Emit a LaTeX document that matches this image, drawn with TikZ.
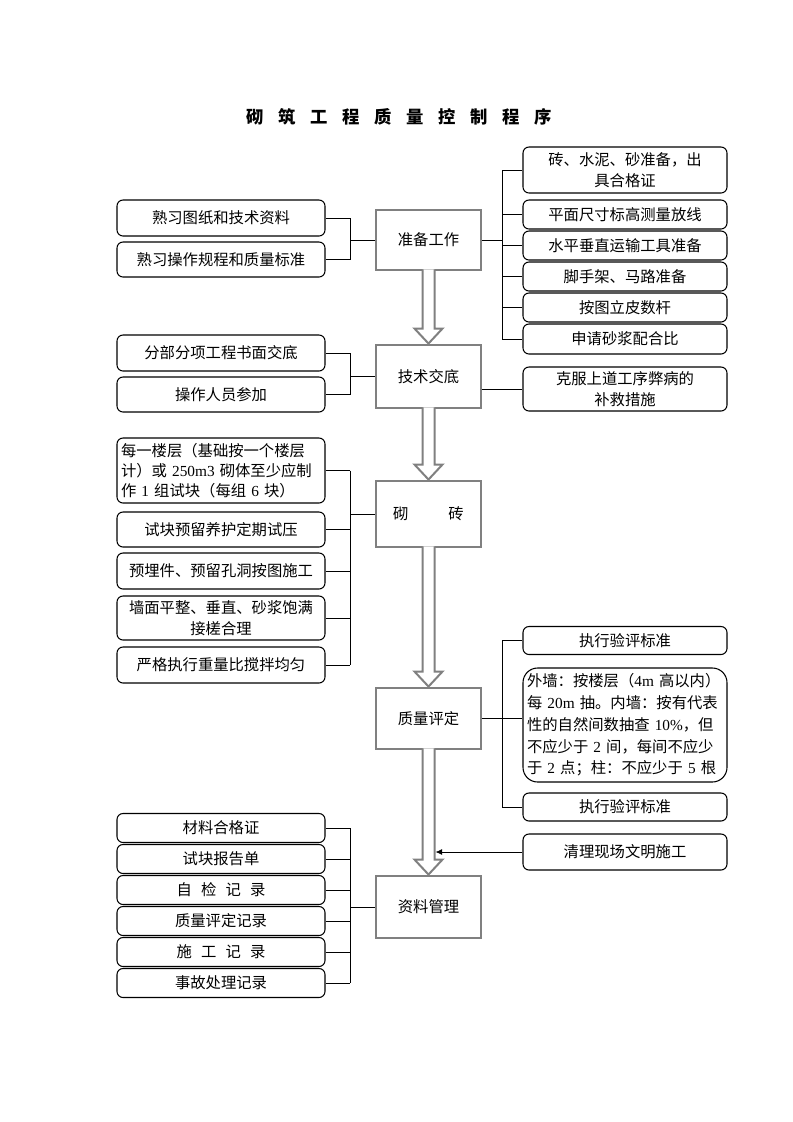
\documentclass[tikz,border=0pt]{standalone}
\usepackage{fontspec}
\setmainfont{Liberation Serif}
\newfontfamily\cjk{Noto Sans CJK SC}
\usetikzlibrary{arrows.meta,calc,positioning}
\definecolor{framegray}{RGB}{128,128,128}
\newcommand{\lat}[1]{{\rmfamily #1}}
\tikzset{
  sidebox/.style={draw=black, line width=0.8pt, rounded corners=4.5pt, fill=white,
    minimum width=156pt, inner sep=2pt, align=center,
    font=\cjk\fontsize{11.5}{16}\selectfont},
  rightbox/.style={sidebox, minimum width=153pt},
  stepbox/.style={draw=framegray, line width=2.2pt, fill=white, minimum width=78.75pt,
    font=\cjk\fontsize{11.5}{16}\selectfont},
  titlechar/.style={font=\cjk\bfseries\fontsize{13}{15}\selectfont, inner sep=0pt},
  link/.style={draw=black, line width=0.6pt},
  hollow/.style={draw=framegray, line width=1.5pt, fill=white},
}

\begin{document}
\begin{tikzpicture}[x=0.75pt, y=-0.75pt]
    \useasboundingbox (0,0) rectangle (793,1122);

    % Title
    \foreach \c [count=\i from 0] in {砌,筑,工,程,质,量,控,制,程,序}
        \node[titlechar] (title\i) at (255+32*\i, 117) {\c};

    % Main steps
    \node[stepbox, minimum height=45pt]    (prep)  at (428.5, 240)   {准备工作};
    \node[stepbox, minimum height=47.25pt] (tech)  at (428.5, 376.5) {技术交底};
    \node[stepbox, minimum height=49.5pt]  (brick) at (428.5, 514)   {砌\hspace{2.6em}砖};
    \node[stepbox, minimum height=45.75pt] (check) at (428.5, 718.5) {质量评定};
    \node[stepbox, minimum height=46.5pt]  (files) at (428.5, 907)   {资料管理};

    % Left side
    \node[sidebox, minimum height=27pt]    (prepL1) at (221, 218)   {熟习图纸和技术资料};
    \node[sidebox, minimum height=26.25pt] (prepL2) at (221, 259.5) {熟习操作规程和质量标准};

    \node[sidebox, minimum height=27pt]    (techL1) at (221, 353)   {分部分项工程书面交底};
    \node[sidebox, minimum height=26.25pt] (techL2) at (221, 394.5) {操作人员参加};

    \node[sidebox, minimum height=48.75pt, text width=150pt, inner sep=3pt, align=left,
          font=\cjk\fontsize{11.5}{15}\selectfont] (brickL1) at (221, 470.5)
        {每一楼层（基础按一个楼层\\计）或 \lat{250m3} 砌体至少应制\\作 \lat{1} 组试块（每组 \lat{6} 块）};
    \node[sidebox, minimum height=26.25pt] (brickL2) at (221, 529.5) {试块预留养护定期试压};
    \node[sidebox, minimum height=27pt]    (brickL3) at (221, 571)   {预埋件、预留孔洞按图施工};
    \node[sidebox, minimum height=33pt]    (brickL4) at (221, 618)   {墙面平整、垂直、砂浆饱满\\接槎合理};
    \node[sidebox, minimum height=27pt]    (brickL5) at (221, 665)   {严格执行重量比搅拌均匀};

    \node[sidebox, minimum height=21.75pt] (filesL1) at (221, 828) {材料合格证};
    \node[sidebox, minimum height=21.75pt] (filesL2) at (221, 859) {试块报告单};
    \node[sidebox, minimum height=21.75pt] (filesL3) at (221, 890) {自\hspace{0.6em}检\hspace{0.6em}记\hspace{0.6em}录};
    \node[sidebox, minimum height=21.75pt] (filesL4) at (221, 921) {质量评定记录};
    \node[sidebox, minimum height=21.75pt] (filesL5) at (221, 952) {施\hspace{0.6em}工\hspace{0.6em}记\hspace{0.6em}录};
    \node[sidebox, minimum height=21.75pt] (filesL6) at (221, 983) {事故处理记录};

    % Right side
    \node[rightbox, minimum height=34.5pt]  (prepR1) at (625, 170)   {砖、水泥、砂准备，出\\具合格证};
    \node[rightbox, minimum height=21.75pt] (prepR2) at (625, 214.5) {平面尺寸标高测量放线};
    \node[rightbox, minimum height=21.75pt] (prepR3) at (625, 245.5) {水平垂直运输工具准备};
    \node[rightbox, minimum height=21.75pt] (prepR4) at (625, 276.5) {脚手架、马路准备};
    \node[rightbox, minimum height=21.75pt] (prepR5) at (625, 307.5) {按图立皮数杆};
    \node[rightbox, minimum height=22.5pt]  (prepR6) at (625, 339)   {申请砂浆配合比};

    \node[rightbox, minimum height=33pt] (techR) at (625, 389) {克服上道工序弊病的\\补救措施};

    \node[rightbox, minimum height=21pt] (checkR1) at (625, 640.5) {执行验评标准};
    \node[rightbox, minimum height=85.5pt, rounded corners=11pt, text width=147pt, inner sep=3pt,
          align=left, font=\cjk\fontsize{11.5}{16.3}\selectfont] (checkR2) at (625, 725)
        {外墙：按楼层（\lat{4m} 高以内）\\每 \lat{20m} 抽。内墙：按有代表\\性的自然间数抽查 \lat{10\%}，但\\不应少于 \lat{2} 间，每间不应少\\于 \lat{2} 点；柱：不应少于 \lat{5} 根};
    \node[rightbox, minimum height=21pt] (checkR3) at (625, 807) {执行验评标准};

    \node[rightbox, minimum height=27pt] (cleanR) at (625, 852) {清理现场文明施工};

    % Brackets
    \coordinate (lbar) at (350, 0);
    \coordinate (rbar) at (502, 0);

    \draw[link] (prepL1.east) -- (prepL1.east -| lbar) -- (prepL2.east -| lbar) -- (prepL2.east);
    \draw[link] (prep.west -| lbar) -- (prep.west);
    \draw[link] (techL1.east) -- (techL1.east -| lbar) -- (techL2.east -| lbar) -- (techL2.east);
    \draw[link] (tech.west -| lbar) -- (tech.west);

    \draw[link] (brickL1.east -| lbar) -- (brickL5.east -| lbar);
    \foreach \n in {brickL1,brickL2,brickL3,brickL4,brickL5}
        \draw[link] (\n.east) -- (\n.east -| lbar);
    \draw[link] (brick.west -| lbar) -- (brick.west);

    \draw[link] (filesL1.east -| lbar) -- (filesL6.east -| lbar);
    \foreach \n in {filesL1,filesL2,filesL3,filesL4,filesL5,filesL6}
        \draw[link] (\n.east) -- (\n.east -| lbar);
    \draw[link] (files.west -| lbar) -- (files.west);

    \draw[link] (prepR1.west -| rbar) -- (prepR6.west -| rbar);
    \foreach \n in {prepR1,prepR2,prepR3,prepR4,prepR5,prepR6}
        \draw[link] (\n.west -| rbar) -- (\n.west);
    \draw[link] (prep.east) -- (prep.east -| rbar);

    \draw[link] (tech.east |- techR.west) -- (techR.west);

    \draw[link] (checkR1.west -| rbar) -- (checkR3.west -| rbar);
    \draw[link] (checkR1.west -| rbar) -- (checkR1.west);
    \draw[link] (checkR3.west -| rbar) -- (checkR3.west);
    \draw[link] (check.east) -- (check.east -| checkR2.west);

    % Hollow flow arrows
    \foreach \a/\b in {prep/tech,tech/brick,brick/check,check/files}
        \draw[hollow] ($(\a.south)+(-6,-2)$) -- ($(\b.north)+(-6,-15)$) -- ($(\b.north)+(-14,-15)$)
            -- (\b.north) -- ($(\b.north)+(14,-15)$) -- ($(\b.north)+(6,-15)$) -- ($(\a.south)+(6,-2)$);

    \coordinate (shaft) at ($(check.south)+(7,0)$);
    \draw[link, -{Latex[length=5pt,width=4.5pt]}] (cleanR.west) -- (cleanR.west -| shaft);
\end{tikzpicture}
\end{document}
